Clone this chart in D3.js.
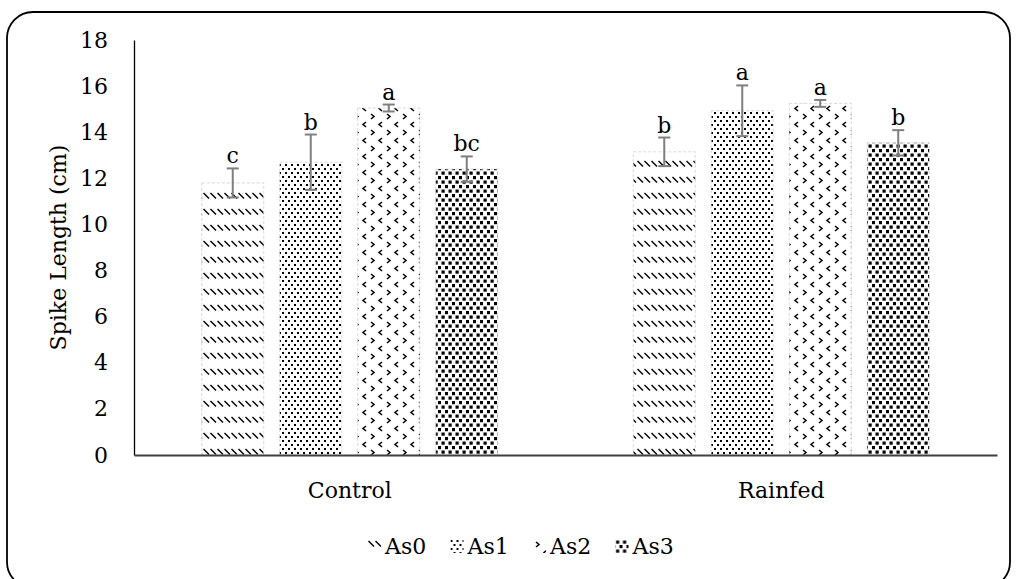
<!DOCTYPE html>
<head>
<meta charset="utf-8">
<style>
  body { margin:0; background:#fff; }
  svg { display:block; }
  text { font-family: "DejaVu Serif", serif; fill:#000; }
  .axis text { font-size:22px; font-family: "DejaVu Serif", serif; fill:#000; }
</style>
<script src="https://d3js.org/d3.v7.min.js"></script>
</head>
<body>
<script>

var width = 1016;
var height = 579;

var groups = ["Control", "Rainfed"];
var series = ["As0", "As1", "As2", "As3"];
var meanControl = [11.8, 12.7, 15.05, 12.4];
var meanRainfed = [13.15, 14.93, 15.25, 13.54];
var errControl = [0.63, 1.2, 0.15, 0.55];
var errRainfed = [0.62, 1.1, 0.15, 0.55];
var letterControl = ["c", "b", "a", "bc"];
var letterRainfed = ["b", "a", "a", "b"];
var yTicks = [0, 2, 4, 6, 8, 10, 12, 14, 16, 18];

var rows = [];
series.forEach(function(s, i) {
    rows.push({g: "Control", s: s, v: meanControl[i], e: errControl[i], l: letterControl[i]});
    rows.push({g: "Rainfed", s: s, v: meanRainfed[i], e: errRainfed[i], l: letterRainfed[i]});
});

var margin = {left: 134, right: 19, top: 40, bottom: 124};

var svg = d3.select("body").append("svg")
    .attr("width", width)
    .attr("height", height);

// patterns
var defs = svg.append("defs");

var p0 = defs.append("pattern").attr("id", "pat-As0")
    .attr("patternUnits", "userSpaceOnUse").attr("width", 7).attr("height", 16);
p0.append("path").attr("d", "M0.5,1 L6,6.5").attr("stroke", "#000")
    .attr("stroke-width", 1.5);

var p1 = defs.append("pattern").attr("id", "pat-As1")
    .attr("patternUnits", "userSpaceOnUse").attr("width", 6).attr("height", 8);
p1.append("rect").attr("x", 0).attr("y", 0).attr("width", 2).attr("height", 2).attr("fill", "#000");
p1.append("rect").attr("x", 3).attr("y", 4).attr("width", 2).attr("height", 2).attr("fill", "#000");

var p2 = defs.append("pattern").attr("id", "pat-As2")
    .attr("patternUnits", "userSpaceOnUse").attr("width", 16).attr("height", 16);
p2.append("path").attr("d", "M3,2 L6,4.5 L3,7").attr("fill", "none")
    .attr("stroke", "#000").attr("stroke-width", 1.5);
p2.append("path").attr("d", "M14,10 L11,12.5 L14,15").attr("fill", "none")
    .attr("stroke", "#000").attr("stroke-width", 1.5);

var p3 = defs.append("pattern").attr("id", "pat-As3")
    .attr("patternUnits", "userSpaceOnUse").attr("width", 7).attr("height", 9);
p3.append("rect").attr("x", 0.5).attr("y", 0.5).attr("width", 3.2).attr("height", 3.2).attr("fill", "#000");
p3.append("rect").attr("x", 4).attr("y", 5).attr("width", 3.2).attr("height", 3.2).attr("fill", "#000");

// frame
svg.append("rect")
    .attr("x", 7).attr("y", 12)
    .attr("width", 1003).attr("height", 576)
    .attr("rx", 26).attr("ry", 26)
    .attr("fill", "none").attr("stroke", "#000").attr("stroke-width", 1.8);

var x0 = d3.scaleBand()
    .domain(groups)
    .range([margin.left, width - margin.right]);

var x1 = d3.scaleBand()
    .domain(series)
    .paddingInner(0.205)
    .range([(x0.bandwidth() - 296) / 2, (x0.bandwidth() + 296) / 2]);

var y = d3.scaleLinear()
    .domain([0, 18])
    .range([height - margin.bottom, margin.top]);

// bars
svg.append("g")
  .selectAll("rect")
  .data(rows)
  .enter().append("rect")
    .attr("x", function(d) { return x0(d.g) + x1(d.s); })
    .attr("y", function(d) { return y(d.v); })
    .attr("width", x1.bandwidth())
    .attr("height", function(d) { return y(0) - y(d.v); })
    .attr("fill", function(d) { return "url(#pat-" + d.s + ")"; })
    .attr("stroke", "#d0d0d0")
    .attr("stroke-width", 0.8)
    .attr("stroke-dasharray", "3,2");

// error bars
var eb = svg.append("g")
  .selectAll("g")
  .data(rows)
  .enter().append("g")
    .attr("stroke", "#7f7f7f")
    .attr("stroke-width", 2);

eb.append("line")
    .attr("x1", function(d) { return x0(d.g) + x1(d.s) + x1.bandwidth() / 2; })
    .attr("x2", function(d) { return x0(d.g) + x1(d.s) + x1.bandwidth() / 2; })
    .attr("y1", function(d) { return y(d.v - d.e); })
    .attr("y2", function(d) { return y(d.v + d.e); });
eb.append("line")
    .attr("x1", function(d) { return x0(d.g) + x1(d.s) + x1.bandwidth() / 2 - 6; })
    .attr("x2", function(d) { return x0(d.g) + x1(d.s) + x1.bandwidth() / 2 + 6; })
    .attr("y1", function(d) { return y(d.v - d.e); })
    .attr("y2", function(d) { return y(d.v - d.e); });
eb.append("line")
    .attr("x1", function(d) { return x0(d.g) + x1(d.s) + x1.bandwidth() / 2 - 6; })
    .attr("x2", function(d) { return x0(d.g) + x1(d.s) + x1.bandwidth() / 2 + 6; })
    .attr("y1", function(d) { return y(d.v + d.e); })
    .attr("y2", function(d) { return y(d.v + d.e); });

// letters
svg.append("g")
  .selectAll("text")
  .data(rows)
  .enter().append("text")
    .attr("x", function(d) { return x0(d.g) + x1(d.s) + x1.bandwidth() / 2; })
    .attr("y", function(d) { return y(d.v + d.e) - 5; })
    .attr("text-anchor", "middle")
    .style("font-size", "22px")
    .text(function(d) { return d.l; });

// axes
var yAxis = svg.append("g")
    .attr("class", "axis")
    .attr("transform", "translate(" + margin.left + ",0)")
    .call(d3.axisLeft(y).tickValues(yTicks).tickSize(0).tickPadding(26));
yAxis.select(".domain").attr("stroke", "#000").attr("stroke-width", 1.3);

var xAxis = svg.append("g")
    .attr("class", "axis")
    .attr("transform", "translate(0," + y(0) + ")")
    .call(d3.axisBottom(x0).tickSize(0).tickPadding(27));
xAxis.select(".domain").attr("stroke", "#404040").attr("stroke-width", 1.8);

svg.append("text")
    .attr("transform", "translate(66," + (margin.top + y(0)) / 2 + ") rotate(-90)")
    .attr("text-anchor", "middle")
    .style("font-size", "22px")
    .text("Spike Length (cm)");

// legend
var leg = svg.append("g")
  .selectAll("g")
  .data(series)
  .enter().append("g")
    .attr("transform", function(d, i) { return "translate(" + (368 + i * 82.5) + ",540)"; });
leg.append("rect")
    .attr("width", 13).attr("height", 13)
    .attr("fill", function(d) { return "url(#pat-" + d + ")"; });
leg.append("text")
    .attr("x", 17).attr("y", 14)
    .style("font-size", "22px")
    .text(function(d) { return d; });

</script>
</body>
